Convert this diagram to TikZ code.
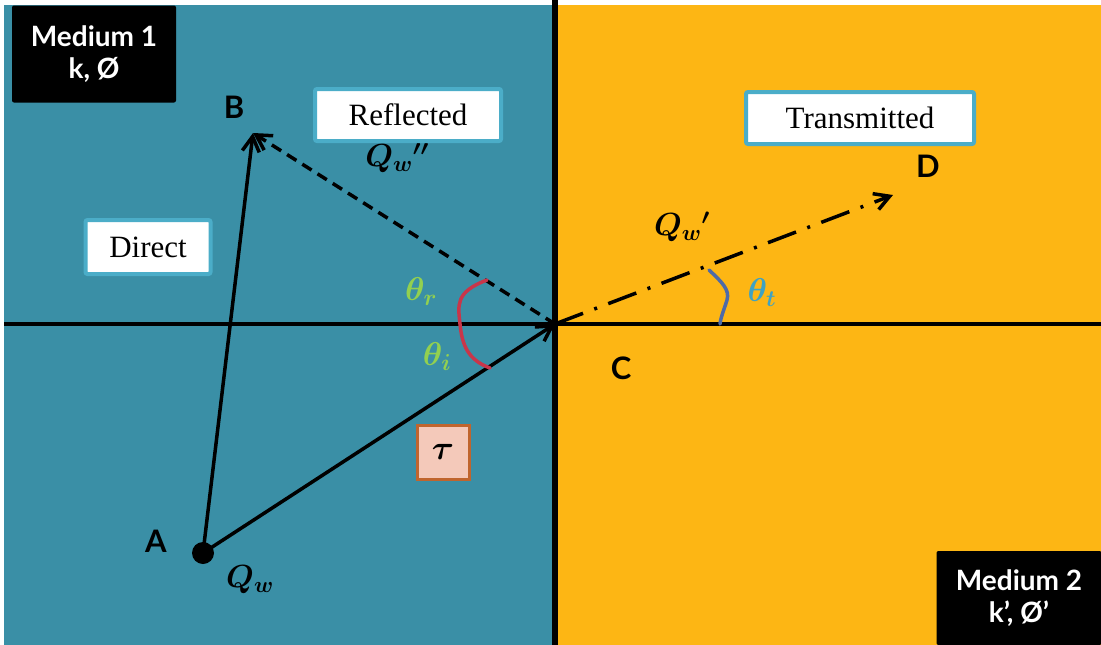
\RequirePackage{fix-cm}
\documentclass[tikz,border=0pt]{standalone}
\usepackage{amsmath,amssymb,bm}
\usepackage{fontspec}
\setmainfont{Liberation Serif}
\setsansfont{Lato}
\usetikzlibrary{arrows.meta,positioning}
\definecolor{tealbg}{HTML}{3A8FA6}
\definecolor{goldbg}{HTML}{FDB614}
\definecolor{boxrim}{HTML}{4BADC8}
\definecolor{thgreen}{HTML}{92D050}
\definecolor{thblue}{HTML}{3FA2C2}
\definecolor{bracered}{HTML}{C8364A}
\definecolor{arcblue}{HTML}{4E6AA8}
\definecolor{taufill}{HTML}{F4C9BA}
\definecolor{taurim}{HTML}{C0652E}

\begin{document}
\begin{tikzpicture}[
  x=1pt,y=-1pt,
  flow/.style={-{Straight Barb[length=15pt,width=17pt,line width=3.5pt]},line width=3.5pt},
  mediumbox/.style={fill=black,text=white,rounded corners=2pt,align=center,
    font=\sffamily\bfseries\fontsize{28}{32}\selectfont,inner sep=0pt},
  labelbox/.style={draw=boxrim,line width=4pt,fill=white,rounded corners=2pt,
    font=\fontsize{31}{34}\selectfont,inner sep=0pt},
  pointlabel/.style={font=\sffamily\bfseries\fontsize{31}{33}\selectfont,inner sep=0pt},
  qlabel/.style={font=\fontsize{32}{36}\selectfont,inner sep=0pt},
  thlabel/.style={font=\fontsize{33}{36}\selectfont,inner sep=0pt}
]
\useasboundingbox (0,0) rectangle (1101,645);
\fill[white] (0,0) rectangle (1101,645);
% the two media
\fill[tealbg] (4,5) rectangle (555,645);
\fill[goldbg] (555,5) rectangle (1101,645);
\draw[line width=6pt] (555,0) -- (555,645);
\draw[line width=4pt] (4,324) -- (1101,324);

\node[mediumbox,minimum width=164pt,minimum height=97pt] (med1) at (94,54)
  {Medium 1\\k, Ø};
\node[mediumbox,minimum width=165pt,minimum height=94pt] (med2) at (1019,598)
  {Medium 2\\k’, Ø’};

% points
\coordinate (A) at (203,553);
\coordinate (B) at (253,133);
\coordinate (C) at (555,324);
\coordinate (D) at (893,195);
\fill (A) circle (11pt);
\node[pointlabel] (Alab) at (156,541) {A};
\node[pointlabel] (Blab) at (234,107) {B};
\node[pointlabel] (Clab) at (621,368) {C};
\node[pointlabel] (Dlab) at (928,166) {D};

% rays
\draw[flow] (A) -- (B);
\draw[flow] (A) -- (C);
\draw[flow,dash pattern=on 11pt off 7pt] (C) -- (B);
\draw[flow,dash pattern=on 30pt off 12pt on 3pt off 12pt] (C) -- (D);

% angles
\draw[bracered,line width=3.5pt,line cap=round] (487,280) .. controls (455,292) and (458,305) .. (460,324)
  .. controls (462,345) and (468,360) .. (490,368);
\draw[arcblue,line width=3.5pt,line cap=round] (709,270) .. controls (722,282) and (730,290) .. (727,300)
  .. controls (724,310) and (721,316) .. (720,324);
\node[thlabel,text=thgreen] (thr) at (421,292) {$\bm{\theta_r}$};
\node[thlabel,text=thgreen] (thi) at (437,357) {$\bm{\theta_i}$};
\node[thlabel,text=thblue] (tht) at (762,293) {$\bm{\theta_t}$};

% flux labels
\node[qlabel] (qw) at (250,580) {$\bm{Q_w}$};
\node[qlabel] (qwr) at (397,158) {$\bm{Q_w}{}^{\bm{\prime\prime}}$};
\node[qlabel] (qwt) at (682,227) {$\bm{Q_w}{}^{\bm{\prime}}$};

% captions
\node[labelbox,minimum width=186pt,minimum height=52pt] (refl) at (408,115) {Reflected};
\node[labelbox,minimum width=228pt,minimum height=52pt] (trans) at (860,118) {Transmitted};
\node[labelbox,minimum width=125pt,minimum height=54pt] (direct) at (148,247) {Direct};
\node[draw=taurim,line width=3pt,fill=taufill,minimum width=52pt,minimum height=54pt,
  inner sep=0pt,font=\fontsize{34}{36}\selectfont] (tau) at (443,452) {$\bm{\tau}$};
\end{tikzpicture}
\end{document}
